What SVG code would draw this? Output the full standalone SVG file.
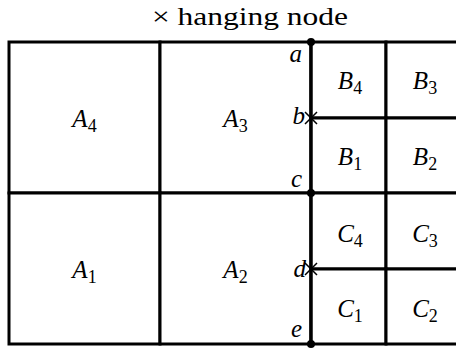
<svg xmlns="http://www.w3.org/2000/svg" width="456" height="349" viewBox="0 0 456 349">
<style>
.cell{fill:#fff;stroke:#000;stroke-width:3}
.lbl{font-style:italic;font-size:25px;text-anchor:middle;fill:#000}
.sub{font-style:normal;font-size:18px}
.pt{font-style:italic;font-size:25px;text-anchor:end;fill:#000}
.title{font-size:25px;text-anchor:middle;fill:#000}
.x{stroke:#000;stroke-width:1.5}
</style>
<rect width="456" height="349" fill="#fff"/>
<g font-family="'Liberation Serif', 'DejaVu Serif', serif">
<text class="title" x="250" y="25" textLength="196" lengthAdjust="spacingAndGlyphs">× hanging node</text>
<g id="A4"><rect class="cell" x="9" y="42" width="151" height="151"/><text class="lbl" x="84.5" y="127">A<tspan class="sub" dy="5">4</tspan></text></g>
<g id="A3"><rect class="cell" x="160" y="42" width="151" height="151"/><text class="lbl" x="235.5" y="127">A<tspan class="sub" dy="5">3</tspan></text></g>
<g id="A1"><rect class="cell" x="9" y="193" width="151" height="151"/><text class="lbl" x="84.5" y="278">A<tspan class="sub" dy="5">1</tspan></text></g>
<g id="A2"><rect class="cell" x="160" y="193" width="151" height="151"/><text class="lbl" x="235.5" y="278">A<tspan class="sub" dy="5">2</tspan></text></g>
<g id="B4"><rect class="cell" x="311" y="42" width="75" height="76"/><text class="lbl" x="350" y="89">B<tspan class="sub" dy="5">4</tspan></text></g>
<g id="B3"><rect class="cell" x="386" y="42" width="75" height="76"/><text class="lbl" x="425" y="89">B<tspan class="sub" dy="5">3</tspan></text></g>
<g id="B1"><rect class="cell" x="311" y="118" width="75" height="75"/><text class="lbl" x="350" y="165">B<tspan class="sub" dy="5">1</tspan></text></g>
<g id="B2"><rect class="cell" x="386" y="118" width="75" height="75"/><text class="lbl" x="425" y="165">B<tspan class="sub" dy="5">2</tspan></text></g>
<g id="C4"><rect class="cell" x="311" y="193" width="75" height="76"/><text class="lbl" x="350" y="242">C<tspan class="sub" dy="5">4</tspan></text></g>
<g id="C3"><rect class="cell" x="386" y="193" width="75" height="76"/><text class="lbl" x="425" y="242">C<tspan class="sub" dy="5">3</tspan></text></g>
<g id="C1"><rect class="cell" x="311" y="269" width="75" height="75"/><text class="lbl" x="350" y="317">C<tspan class="sub" dy="5">1</tspan></text></g>
<g id="C2"><rect class="cell" x="386" y="269" width="75" height="75"/><text class="lbl" x="425" y="317">C<tspan class="sub" dy="5">2</tspan></text></g>
<g id="connectors">
<line class="cell" x1="311" y1="42" x2="311" y2="344"/>
</g>
<g id="nodes">
<circle cx="311" cy="42" r="4"/>
<circle cx="311" cy="193" r="4"/>
<circle cx="311" cy="344" r="4"/>
<path class="x" d="M305 112L317 124M305 124L317 112"/>
<path class="x" d="M305 263L317 275M305 275L317 263"/>
<text class="pt" x="302" y="62">a</text>
<text class="pt" x="305" y="124">b</text>
<text class="pt" x="302" y="187">c</text>
<text class="pt" x="306" y="277">d</text>
<text class="pt" x="302" y="337">e</text>
</g>
</g>
</svg>
